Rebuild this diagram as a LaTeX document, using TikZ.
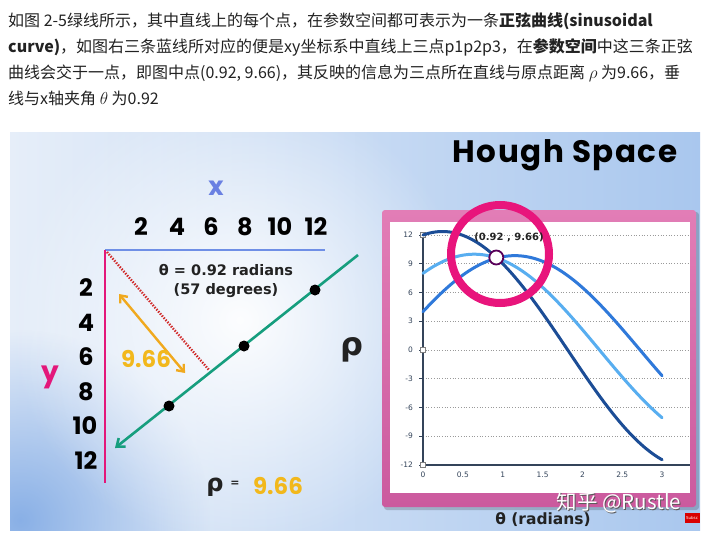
\documentclass[tikz,border=0pt]{standalone}
\usepackage{fontspec}
\usetikzlibrary{arrows.meta,fadings}
\newfontfamily\cjk{Noto Sans CJK SC}
\newfontfamily\pop{Poppins}
\newfontfamily\popt{Poppins}[LetterSpace=5]
\newfontfamily\dvs{DejaVu Sans}
\definecolor{txt}{HTML}{222222}
\definecolor{bgl}{HTML}{E6EEF9}
\definecolor{bgr}{HTML}{A9C7EE}
\definecolor{bgblue}{HTML}{7FA9E4}
\definecolor{xblue}{HTML}{6A80E2}
\definecolor{ypink}{HTML}{E3177A}
\definecolor{axblue}{HTML}{6F8FE6}
\definecolor{lgreen}{HTML}{169E7E}
\definecolor{rdot}{HTML}{D02A2A}
\definecolor{orng}{HTML}{F0A91E}
\definecolor{oyel}{HTML}{F2B81C}
\definecolor{frameA}{HTML}{E27DB6}
\definecolor{frameB}{HTML}{CB5A9E}
\definecolor{ring}{HTML}{E8157C}
\definecolor{cdark}{HTML}{1C4D96}
\definecolor{cmed}{HTML}{2F79DA}
\definecolor{clight}{HTML}{58AEF0}
\definecolor{gridc}{HTML}{9A9A9A}
\definecolor{axc}{HTML}{34445A}
\tikzfading[name=glowfade, inner color=transparent!0, outer color=transparent!100]
\tikzset{
  cjkline/.style={anchor=west, inner sep=0pt, text=txt, font=\cjk\fontsize{16}{20}\selectfont},
  bignum/.style={inner sep=0pt, text=black, font=\pop\bfseries\fontsize{24}{24}\selectfont},
  tick/.style={inner sep=0pt, text=axc, font=\dvs\fontsize{7.5}{8}\selectfont},
  bdot/.style={circle, fill=black, inner sep=0pt, minimum size=11pt},
  curve/.style={line width=3pt, line cap=round},
}
\begin{document}
\begin{tikzpicture}[x=1pt,y=-1pt]
\useasboundingbox (0,0) rectangle (719,543);
\fill[white] (0,0) rectangle (719,543);
% ---- top text
\node[cjkline] (t1) at (8,21.5) {如图 2-5绿线所示，其中直线上的每个点，在参数空间都可表示为一条\textbf{正弦曲线(sinusoidal}};
\node[cjkline] (t2) at (8,47.5) {\textbf{curve)}，如图右三条蓝线所对应的便是xy坐标系中直线上三点p1p2p3，在\textbf{参数空间}中这三条正弦};
\node[cjkline] (t3) at (8,73) {曲线会交于一点，即图中点(0.92, 9.66)，其反映的信息为三点所在直线与原点距离 $\rho$ 为9.66，垂};
\node[cjkline] (t4) at (8,98.5) {线与x轴夹角 $\theta$ 为0.92};
% ---- background
\begin{scope}
\clip (10,132) rectangle (700,530);
\shade[left color=bgl, right color=bgr] (10,132) rectangle (700,530);
\fill[bgblue, path fading=glowfade, opacity=0.9] (20,520) circle (190pt);
\fill[white, path fading=glowfade, opacity=0.95] (240,320) circle (230pt);
\end{scope}
% ---- left panel
\node[inner sep=0pt, text=xblue, font=\pop\bfseries\fontsize{26}{26}\selectfont] (xl) at (216,188) {x};
\node[bignum] (x2) at (141,227) {2};
\node[bignum] (x4) at (177,227) {4};
\node[bignum] (x6) at (211,227) {6};
\node[bignum] (x8) at (245,227) {8};
\node[bignum] (x10) at (280,227) {10};
\node[bignum] (x12) at (316,227) {12};
\node[bignum] (y2) at (86,288) {2};
\node[bignum] (y4) at (86,323) {4};
\node[bignum] (y6) at (86,357) {6};
\node[bignum] (y8) at (86,392) {8};
\node[bignum] (y10) at (85,426) {10};
\node[bignum] (y12) at (86,461) {12};
\node[inner sep=0pt, text=ypink, font=\pop\bfseries\fontsize{28}{28}\selectfont] (yl) at (50,377) {y};
\coordinate (O) at (105,250);
\coordinate (xe) at (325,250);
\coordinate (ye) at (105,483);
\draw[axblue, line width=2.6pt] (O) -- (xe);
\draw[ypink, line width=2.6pt] (O) -- (ye);
\coordinate (rs) at (107,252);
\coordinate (re) at (209,370);
\draw[rdot, line width=2.4pt, dash pattern=on 1.4pt off 1.4pt] (rs) -- (re);
\coordinate (gs) at (358,255);
\coordinate (ge) at (115,448);
\draw[lgreen, line width=2.6pt, -{Straight Barb[length=7pt,width=11pt]}] (gs) -- (ge);
\node[bdot] (p1) at (315,290) {};
\node[bdot] (p2) at (244,346) {};
\node[bdot] (p3) at (169,406) {};
\coordinate (os) at (119,294);
\coordinate (oe) at (185,373);
\draw[orng, line width=2.4pt, {Straight Barb[length=6pt,width=10pt]}-{Straight Barb[length=6pt,width=10pt]}] (os) -- (oe);
\node[inner sep=0pt, text=oyel, font=\pop\bfseries\fontsize{23}{23}\selectfont] (r966) at (146,359) {9.66};
\node[inner sep=0pt, align=center, text=txt, font=\dvs\bfseries\fontsize{14.5}{19}\selectfont] (th) at (226,281) {θ = 0.92 radians\\(57 degrees)};
\node[inner sep=0pt, text=txt, font=\dvs\bfseries\fontsize{32}{32}\selectfont] (rho) at (352,350) {ρ};
\node[inner sep=0pt, text=txt, font=\dvs\bfseries\fontsize{24}{24}\selectfont] (rho2) at (215,487) {ρ};
\node[inner sep=0pt, text=txt, font=\dvs\bfseries\fontsize{11}{11}\selectfont] (eq) at (235,484) {=};
\node[inner sep=0pt, text=oyel, font=\pop\bfseries\fontsize{23}{23}\selectfont] (v966) at (278,486) {9.66};
% ---- Hough Space title
\node[inner sep=0pt, text=black, font=\popt\bfseries\fontsize{31}{31}\selectfont] (hs) at (565,155) {Hough Space};
% ---- chart frame
\fill[black, opacity=0.18, rounded corners=3pt] (384,212) rectangle (699,510);
\shade[top color=frameA, bottom color=frameB, rounded corners=3pt] (382,210) rectangle (696,507);
\fill[white] (390,222) rectangle (690,493);
% grid
\foreach \k in {-4,...,4}{
  \draw[gridc, dotted, line width=0.7pt] (423,{350-28.75*\k}) -- (690,{350-28.75*\k});
}
\draw[axc, line width=1.1pt] (423,235) -- (423,465) -- (690,465);
\foreach \k/\lab in {4/12,3/9,2/6,1/3,0/0,-1/-3,-2/-6,-3/-9,-4/-12}{
  \draw[axc, line width=0.8pt] (419,{350-28.75*\k}) -- (423,{350-28.75*\k});
  \node[tick, anchor=east] at (413,{350-28.75*\k}) {\lab};
}
\foreach \v/\lab in {0/0,0.5/0.5,1/1,1.5/1.5,2/2,2.5/2.5,3/3}{
  \node[tick] at ({423+79.7*\v},475) {\lab};
}
\foreach \yy in {235,350,465}{
  \draw[gray, fill=white, line width=0.5pt] (420.5,\yy-2.5) rectangle (425.5,\yy+2.5);
}
% curves
\draw[curve, cmed] plot[domain=0:3, samples=120] ({423+79.7*\x}, {350-9.58*(4*cos(\x r)+9*sin(\x r))});
\draw[curve, clight] plot[domain=0:3, samples=120] ({423+79.7*\x}, {350-9.58*(8*cos(\x r)+6*sin(\x r))});
\draw[curve, cdark] plot[domain=0:3, samples=120] ({423+79.7*\x}, {350-9.58*(12*cos(\x r)+3*sin(\x r))});
% highlight
\draw[ring, line width=8pt] (500,254) circle (49pt);
\node[circle, fill=white, draw=violet!70!black, line width=1.8pt, minimum size=14pt, inner sep=0pt] (ip) at (496.3,257.5) {};
\node[inner sep=0pt, text=txt, font=\dvs\bfseries\fontsize{10}{10}\selectfont] (ipl) at (509,237) {(0.92 , 9.66)};
% axis title + watermark
\node[inner sep=0pt, text=txt, font=\dvs\bfseries\fontsize{15.5}{16}\selectfont] (xt) at (543,520) {θ (radians)};
\node[inner sep=0pt, text=gray!70!black, font=\cjk\fontsize{20.5}{20}\selectfont] at (619.8,503.8) {知乎 @Rustle};
\node[inner sep=0pt, text=white, font=\cjk\fontsize{20.5}{20}\selectfont] (wm) at (619,503) {知乎 @Rustle};
\node[fill=red!85!black, text=white, inner sep=1pt, minimum width=15pt, minimum height=10pt, font=\dvs\fontsize{4}{4}\selectfont] (sub) at (692,518) {Subsc};
\end{tikzpicture}
\end{document}
